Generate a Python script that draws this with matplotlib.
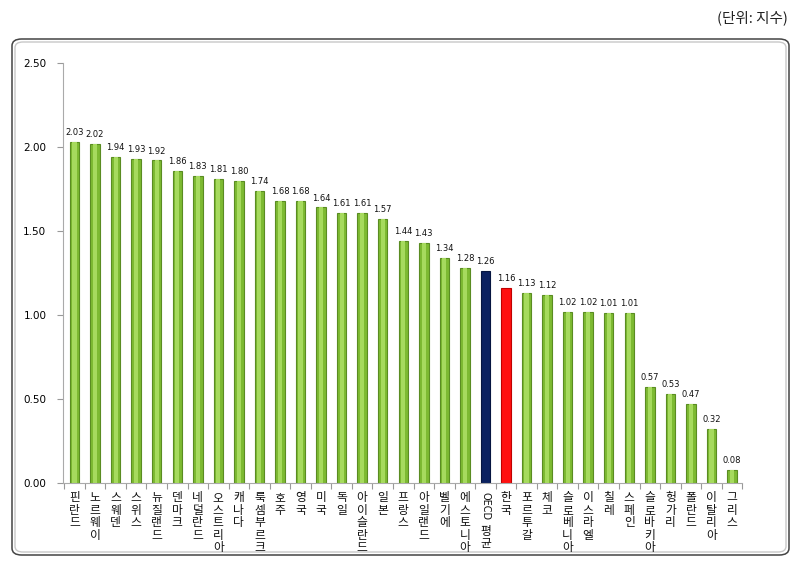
import matplotlib
matplotlib.use("Agg")
import matplotlib.pyplot as plt
from matplotlib.patches import FancyBboxPatch
import matplotlib.transforms as mtransforms

plt.rcParams['font.family'] = ['Noto Sans CJK KR', 'DejaVu Sans']

countries = ["핀란드", "노르웨이", "스웨덴", "스위스", "뉴질랜드", "덴마크", "네덜란드",
             "오스트리아", "캐나다", "룩셈부르크", "호주", "영국", "미국", "독일",
             "아이슬란드", "일본", "프랑스", "아일랜드", "벨기에", "에스토니아",
             "OECD 평균", "한국", "포르투갈", "체코", "슬로베니아", "이스라엘", "칠레",
             "스페인", "슬로바키아", "헝가리", "폴란드", "이탈리아", "그리스"]
values = [2.03, 2.02, 1.94, 1.93, 1.92, 1.86, 1.83, 1.81, 1.80, 1.74, 1.68, 1.68,
          1.64, 1.61, 1.61, 1.57, 1.44, 1.43, 1.34, 1.28, 1.26, 1.16, 1.13, 1.12,
          1.02, 1.02, 1.01, 1.01, 0.57, 0.53, 0.47, 0.32, 0.08]
yticks = [0.0, 0.5, 1.0, 1.5, 2.0, 2.5]

W, H = 805, 565
fig = plt.figure(figsize=(W/100, H/100), dpi=100)

# outer rounded frame
frame = FancyBboxPatch((12/W, 10/H), 777/W, 516/H,
                       boxstyle="round,pad=0,rounding_size=0.012",
                       transform=fig.transFigure, facecolor="white",
                       edgecolor="#444444", linewidth=1.1, zorder=-10)
fig.patches.append(frame)
inner = FancyBboxPatch((15/W, 13/H), 771/W, 510/H,
                       boxstyle="round,pad=0,rounding_size=0.010",
                       transform=fig.transFigure, facecolor="none",
                       edgecolor="#C8C8C8", linewidth=1.0, zorder=-9)
fig.patches.append(inner)
fig.text(788/W, 1 - 18/H, "(단위: 지수)", ha="right", va="center", fontsize=10.5, color="#222222")

ax = fig.add_axes([63/W, 1 - 483/H, (742.3-63)/W, (483-63)/H])
ax.set_zorder(5)
ax.set_facecolor("none")
n = len(countries)
x = list(range(n))
colors = []
edges = []
for c in countries:
    if c == "OECD 평균":
        colors.append("#0B2160"); edges.append("#061540")
    elif c == "한국":
        colors.append("#FF1010"); edges.append("#C00000")
    else:
        colors.append("#7DBA32"); edges.append("#5A8C22")
ax.bar(x, values, width=0.46, color=colors, edgecolor=edges, linewidth=0.8, zorder=2)
# lighter centre highlight for the cylinder look (green bars only)
hx = [xi for xi, c in zip(x, countries) if c not in ("OECD 평균", "한국")]
hv = [v for v, c in zip(values, countries) if c not in ("OECD 평균", "한국")]
ax.bar(hx, hv, width=0.2, color="#A6DA5E", linewidth=0, zorder=3)
for xi, v in zip(x, values):
    ax.annotate(f"{v:.2f}", (xi, v), xytext=(0, 3.5), textcoords="offset points",
                ha="center", va="bottom", fontsize=6, family="DejaVu Sans", color="#111111")

ax.set_xlim(-0.5 - 0.06, n - 0.5)
ax.set_ylim(0, 2.5)
ax.set_yticks(yticks)
ax.set_yticklabels([f"{t:.2f}" for t in yticks], fontsize=7.5, family="DejaVu Sans")
ax.tick_params(axis="y", length=4, color="#999999", pad=8)
ax.set_xticks([i - 0.5 for i in range(n + 1)], minor=False)
ax.set_xticklabels([])
ax.tick_params(axis="x", length=4, color="#999999", direction="out")
for s in ["top", "right"]:
    ax.spines[s].set_visible(False)
for s in ["left", "bottom"]:
    ax.spines[s].set_color("#AAAAAA")

# vertical stacked category labels
trans = mtransforms.blended_transform_factory(ax.transData, ax.transAxes)
for xi, c in zip(x, countries):
    if c == "OECD 평균":
        off = mtransforms.offset_copy(trans, fig=fig, x=0, y=-6.5, units="points")
        ax.text(xi, 0, "OECD", rotation=-90, ha="center", va="top", fontsize=7,
                transform=off, color="#111111", family="DejaVu Sans")
        off2 = mtransforms.offset_copy(trans, fig=fig, x=0, y=-30, units="points")
        ax.text(xi, 0, "평\n균", ha="center", va="top", fontsize=8.5,
                linespacing=0.95, transform=off2, color="#111111")
    else:
        off = mtransforms.offset_copy(trans, fig=fig, x=0, y=-6, units="points")
        ax.text(xi, 0, "\n".join(c), ha="center", va="top", fontsize=8.5,
                linespacing=0.95, transform=off, color="#111111")

fig.savefig("out.png", dpi=100)
